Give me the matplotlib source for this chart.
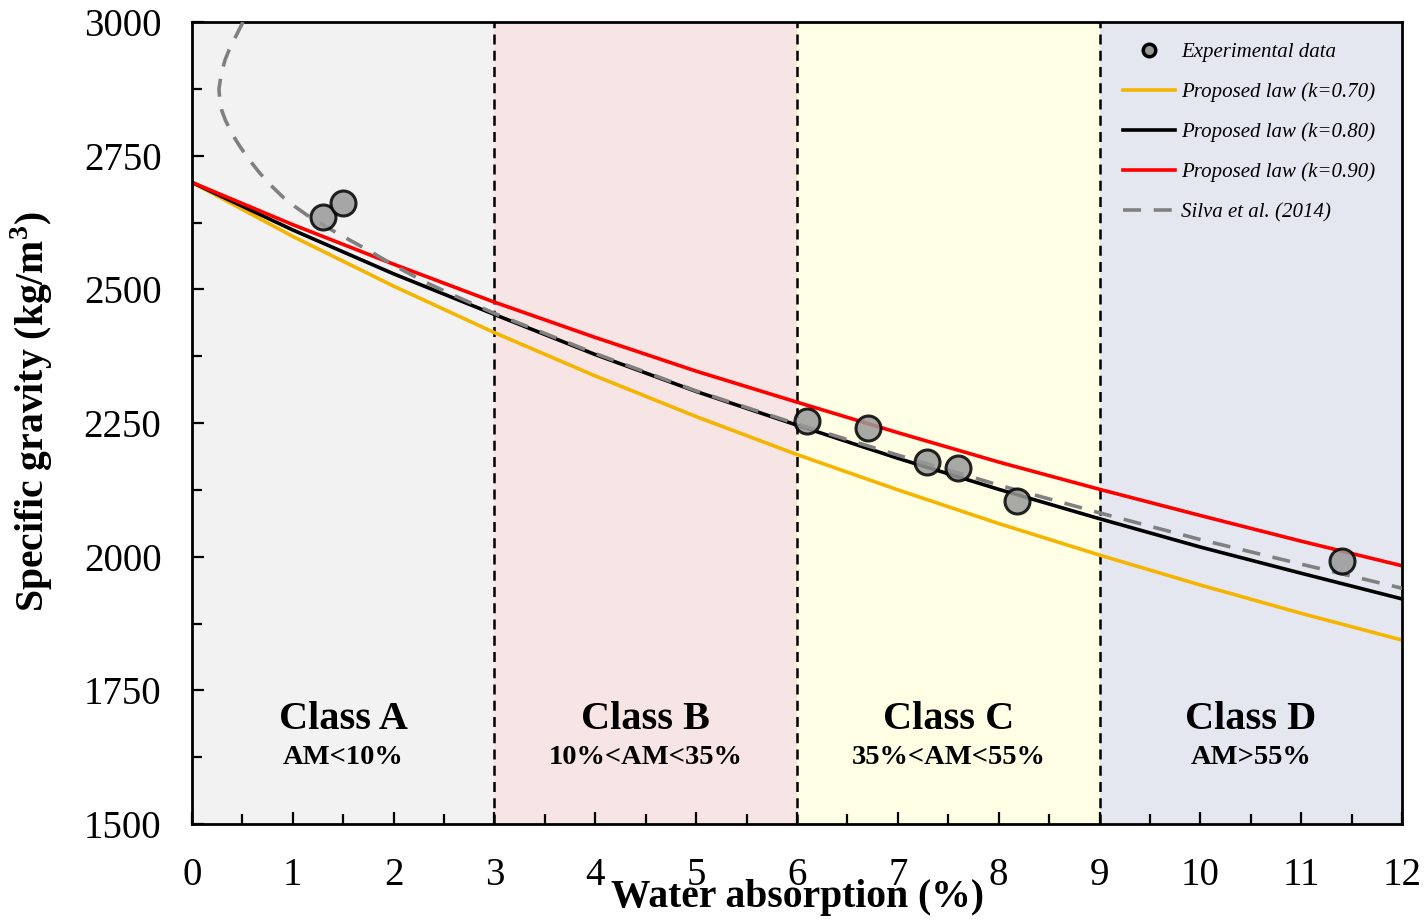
import numpy as np
import matplotlib
matplotlib.use('Agg')
import matplotlib.pyplot as plt
from matplotlib.lines import Line2D
from matplotlib.ticker import MultipleLocator

plt.rcParams['font.family'] = ['Liberation Serif', 'DejaVu Serif']
plt.rcParams['mathtext.fontset'] = 'custom'
plt.rcParams['mathtext.rm'] = 'Liberation Serif'
plt.rcParams['mathtext.bf'] = 'Liberation Serif:bold'

# experimental points (water absorption %, specific gravity kg/m3)
exp_wa = [1.30, 1.50, 6.10, 6.70, 7.29, 7.60, 8.18, 11.40]
exp_sg = [2635, 2661, 2254, 2241, 2177, 2166, 2104, 1992]

# proposed law curves
law_wa = [0, 1, 2, 3, 4, 5, 6, 7, 8, 9, 10, 11, 12]
law_k070 = [2700, 2599, 2506, 2419, 2338, 2262, 2191, 2125, 2062, 2003, 1947, 1894, 1844]
law_k080 = [2700, 2611, 2529, 2453, 2378, 2309, 2246, 2184, 2126, 2071, 2018, 1969, 1921]
law_k090 = [2700, 2621, 2547, 2476, 2410, 2347, 2289, 2232, 2177, 2126, 2077, 2029, 1983]

# Silva et al. (2014)
silva_wa = [0.506, 0.44, 0.38, 0.33, 0.30, 0.28, 0.268, 0.275, 0.295, 0.33, 0.40, 0.48,
            0.57, 0.67, 0.78, 0.90, 1.02, 1.14, 1.44, 1.74, 2.03, 2.33, 2.63, 3, 4, 5,
            6, 7, 8, 9, 10, 11, 12]
silva_sg = [3000, 2975, 2953, 2930, 2910, 2890, 2875, 2855, 2835, 2817, 2790, 2766,
            2742, 2718, 2695, 2673, 2655, 2639, 2605, 2574, 2542, 2512, 2486, 2455, 2380,
            2310, 2248, 2190, 2134, 2082, 2032, 1986, 1941]

class_edges = [0, 3, 6, 9, 12]
class_names = ['Class A', 'Class B', 'Class C', 'Class D']
class_rules = ['AM<10%', '10%<AM<35%', '35%<AM<55%', 'AM>55%']
class_colors = ['#f2f2f2', '#f7e4e4', '#ffffe5', '#e4e7f0']

fig = plt.figure(figsize=(14.25, 9.21), dpi=100)
ax = fig.add_axes([0.1347, 0.1053, 0.8492, 0.8708])

for i in range(4):
    ax.axvspan(class_edges[i], class_edges[i + 1], color=class_colors[i], lw=0, zorder=0)
    xc = (class_edges[i] + class_edges[i + 1]) / 2
    ax.text(xc, 1695, class_names[i], ha='center', va='center', fontsize=29, fontweight='bold')
    ax.text(xc, 1625, class_rules[i], ha='center', va='center', fontsize=20.5, fontweight='bold')
for xe in class_edges[1:-1]:
    ax.axvline(xe, color='black', lw=1.8, ls=(0, (4, 2.5)), zorder=1)

ax.plot(law_wa, law_k070, color='#f5b400', lw=2.6, zorder=2)
ax.plot(law_wa, law_k080, color='black', lw=2.6, zorder=2)
ax.plot(law_wa, law_k090, color='#ff0000', lw=2.6, zorder=2)
ax.plot(silva_wa, silva_sg, color='#808080', lw=2.6, ls=(0, (5, 3.5)), zorder=3)
ax.plot(exp_wa, exp_sg, ls='none', marker='o', ms=18, mfc='#999999', mec='black',
        mew=2.2, alpha=0.85, zorder=4)

ax.set_xlim(0, 12)
ax.set_ylim(1500, 3000)
ax.xaxis.set_major_locator(MultipleLocator(1))
ax.xaxis.set_minor_locator(MultipleLocator(0.5))
ax.yaxis.set_major_locator(MultipleLocator(250))
ax.yaxis.set_minor_locator(MultipleLocator(125))
ax.tick_params(which='both', direction='in', width=1.6, labelsize=28)
ax.tick_params(which='major', length=8.5)
ax.tick_params(which='minor', length=7)
ax.tick_params(axis='x', pad=24)
ax.tick_params(axis='y', pad=22)
for s in ax.spines.values():
    s.set_linewidth(2)

ax.set_xlabel('Water absorption (%)', fontsize=28.5, fontweight='bold', labelpad=-11)
ax.set_ylabel('Specific gravity (kg/m$^{\\mathbf{3}}$)', fontsize=28.5, fontweight='bold')
ax.yaxis.set_label_coords(-0.113, 0.514)

handles = [
    Line2D([], [], ls='none', marker='o', ms=9, mfc='#999999', mec='black', mew=2.5),
    Line2D([], [], color='#f5b400', lw=2.6),
    Line2D([], [], color='black', lw=2.6),
    Line2D([], [], color='#ff0000', lw=2.6),
    Line2D([], [], color='#808080', lw=2.6, ls=(0, (5, 3.5))),
]
labels = ['Experimental data', 'Proposed law (k=0.70)', 'Proposed law (k=0.80)',
          'Proposed law (k=0.90)', 'Silva et al. (2014)']
ax.legend(handles, labels, loc='upper right', bbox_to_anchor=(0.995, 1.0), frameon=False,
          prop={'style': 'italic', 'size': 15}, handlelength=2.5, handletextpad=0.3,
          labelspacing=0.97, borderaxespad=0.6)

fig.savefig('out.png', dpi=100)
